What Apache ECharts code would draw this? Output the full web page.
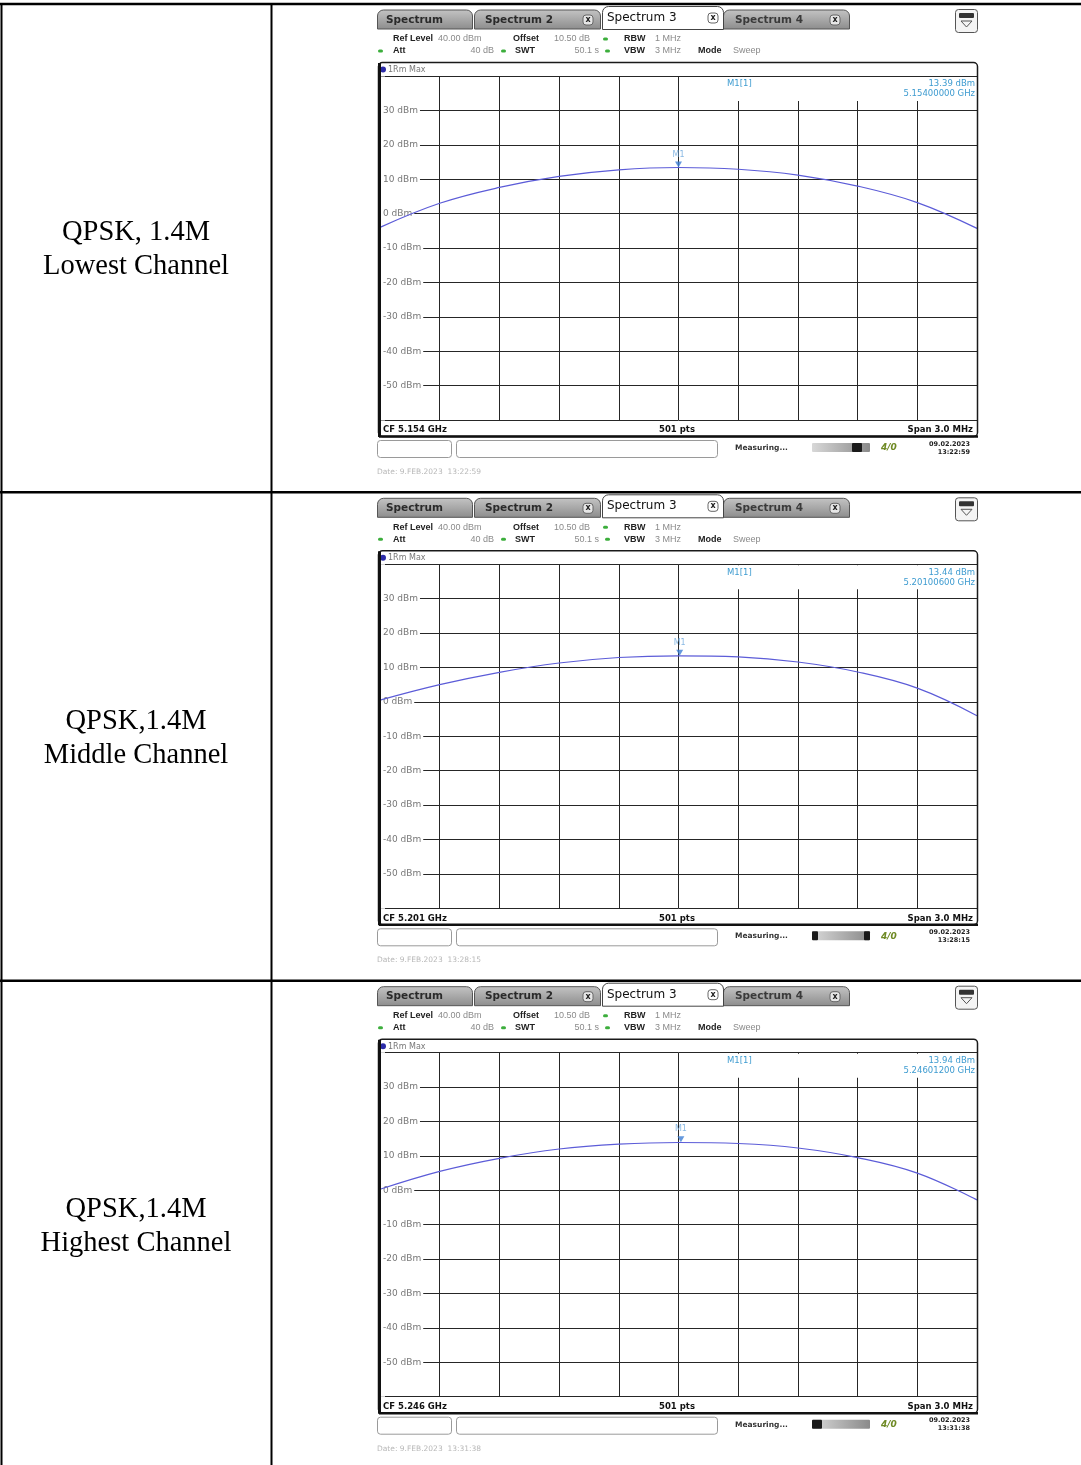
<!DOCTYPE html>
<html>
<head>
<meta charset="utf-8">
<script src="https://cdn.jsdelivr.net/npm/echarts@6/dist/echarts.min.js"></script>
<style>
  html, body { margin: 0; padding: 0; background: #fff; }
  #chart { width: 1081px; height: 1465px; }
</style>
</head>
<body>
<div id="chart"></div>
<script>
// frequency offset from CF in kHz (one grid division = 300 kHz, span 3 MHz)
const freqOffsetKHz = [-1500, -1200, -900, -600, -300, 0, 300, 600, 900, 1200, 1500];
// trace levels (dBm) read at each grid division
const levelLowest = [-4.0, 3.0, 7.6, 10.8, 12.7, 13.4, 12.9, 11.2, 8.0, 3.2, -4.3];
const levelMiddle = [0.5, 5.0, 8.6, 11.3, 12.9, 13.4, 13.1, 11.6, 8.7, 4.0, -4.0];
const levelHighest = [0.3, 5.5, 9.3, 12.0, 13.4, 13.9, 13.6, 12.3, 9.5, 5.0, -2.8];

const rowTitles = ["QPSK, 1.4M", "QPSK,1.4M", "QPSK,1.4M"];
const rowChannels = ["Lowest Channel", "Middle Channel", "Highest Channel"];
const centerFreq = ["CF 5.154 GHz", "CF 5.201 GHz", "CF 5.246 GHz"];
const markerOffsetKHz = [0, 6, 12];
const markerLevel = [13.39, 13.44, 13.94];
const markerLevelText = ["13.39 dBm", "13.44 dBm", "13.94 dBm"];
const markerFreqText = ["5.15400000 GHz", "5.20100600 GHz", "5.24601200 GHz"];
const sweepTime = ["13:22:59", "13:28:15", "13:31:38"];

const levels = [levelLowest, levelMiddle, levelHighest];
const rowTop = [0, 488.3, 976.7];
const UI = "DejaVu Sans";
const HDR = "Liberation Sans";

const chart = echarts.init(document.getElementById("chart"));

function txt(x, y, s, size, color, opts) {
  opts = opts || {};
  return {
    type: "text",
    z: 50,
    x: x,
    y: y,
    style: {
      text: s,
      fontSize: size,
      fontFamily: opts.family || UI,
      fontWeight: opts.bold ? "bold" : "normal",
      fontStyle: opts.italic ? "italic" : "normal",
      fill: color,
      align: opts.align || "left",
      verticalAlign: "middle",
      textAlign: opts.align || "left",
      textVerticalAlign: "middle",
    },
  };
}
function rect(x, y, w, h, style, r, z) {
  return { type: "rect", z: z || 45, shape: { x: x, y: y, width: w, height: h, r: r || 0 }, style: style };
}
function line(x1, y1, x2, y2, color, w, z) {
  return { type: "line", z: z || 60, shape: { x1: x1, y1: y1, x2: x2, y2: y2 }, style: { stroke: color, lineWidth: w } };
}
function closeBox(x, y, bg) {
  return [
    rect(x, y, 10, 10, { fill: bg, stroke: "#666", lineWidth: 1 }, 3, 46),
    txt(x + 5, y + 5, "x", 8, "#222", { align: "center", bold: true }),
  ];
}
function dot(x, y) {
  return rect(x, y - 1.5, 5, 3, { fill: "#3cae3c" }, 1.5, 46);
}

// screenshot chrome and table cell labels for one row
function panel(i) {
  const oy = rowTop[i];
  let els = [];
  const tabFill = new echarts.graphic.LinearGradient(0, 0, 0, 1, [
    { offset: 0, color: "#c4c4c4" },
    { offset: 1, color: "#8c8c8c" },
  ]);
  // tabs
  els.push(rect(377.5, oy + 10, 95, 19, { fill: tabFill, stroke: "#555", lineWidth: 1 }, [6, 6, 0, 0]));
  els.push(txt(386, oy + 20, "Spectrum", 10.5, "#2a2a2a", { bold: true }));
  els.push(rect(474.5, oy + 10, 126, 19, { fill: tabFill, stroke: "#555", lineWidth: 1 }, [6, 6, 0, 0]));
  els.push(txt(485, oy + 20, "Spectrum 2", 10.5, "#2a2a2a", { bold: true }));
  els = els.concat(closeBox(583, oy + 15, "#e6e6e6"));
  els.push(rect(723.5, oy + 10, 126, 19, { fill: tabFill, stroke: "#555", lineWidth: 1 }, [6, 6, 0, 0]));
  els.push(txt(735, oy + 20, "Spectrum 4", 10.5, "#3a3a3a", { bold: true }));
  els = els.concat(closeBox(830, oy + 15, "#e6e6e6"));
  els.push(rect(602.5, oy + 6.5, 121, 23, { fill: "#fff", stroke: "#444", lineWidth: 1 }, [6, 6, 0, 0], 47));
  els.push(Object.assign(txt(607, oy + 18, "Spectrum 3", 12, "#111"), { z: 52 }));
  els = els.concat(closeBox(708, oy + 13, "#fff").map((e) => Object.assign(e, { z: e.z + 6 })));
  // top-right icon
  els.push(rect(955.5, oy + 9.5, 22, 23, { fill: "#f4f4f4", stroke: "#555", lineWidth: 1 }, 3));
  els.push(rect(959, oy + 13, 15, 5, { fill: "#333" }, 1, 46));
  els.push({ type: "polygon", z: 46, shape: { points: [[961, oy + 21], [972, oy + 21], [966.5, oy + 27]] }, style: { fill: "none", stroke: "#555", lineWidth: 1 } });

  // header lines
  const yA = oy + 39, yB = oy + 51;
  const h = { family: HDR };
  const hb = { family: HDR, bold: true };
  els.push(txt(393, yA, "Ref Level", 9, "#222", hb));
  els.push(txt(438, yA, "40.00 dBm", 9, "#8a8a8a", h));
  els.push(txt(513, yA, "Offset", 9, "#222", hb));
  els.push(txt(554, yA, "10.50 dB", 9, "#8a8a8a", h));
  els.push(dot(603, yA));
  els.push(txt(624, yA, "RBW", 9, "#222", hb));
  els.push(txt(655, yA, "1 MHz", 9, "#8a8a8a", h));
  els.push(dot(378, yB));
  els.push(txt(393, yB, "Att", 9, "#222", hb));
  els.push(txt(494, yB, "40 dB", 9, "#8a8a8a", Object.assign({ align: "right" }, h)));
  els.push(dot(501, yB));
  els.push(txt(515, yB, "SWT", 9, "#222", hb));
  els.push(txt(599, yB, "50.1 s", 9, "#8a8a8a", Object.assign({ align: "right" }, h)));
  els.push(dot(605, yB));
  els.push(txt(624, yB, "VBW", 9, "#222", hb));
  els.push(txt(655, yB, "3 MHz", 9, "#8a8a8a", h));
  els.push(txt(698, yB, "Mode", 9, "#222", hb));
  els.push(txt(733, yB, "Sweep", 9, "#8a8a8a", h));

  // panel frame
  els.push(rect(378.5, oy + 62.5, 599, 374, { fill: "none", stroke: "#1a1a1a", lineWidth: 1.5 }, 4, 60));
  els.push(line(379.5, oy + 63, 379.5, oy + 437, "#111", 3));
  els.push(line(379, oy + 436.5, 978, oy + 436.5, "#111", 2.5));
  els.push({ type: "circle", z: 50, shape: { cx: 383, cy: oy + 69.5, r: 3 }, style: { fill: "#2b2ba8" } });
  els.push(txt(388, oy + 70, "1Rm Max", 8, "#777"));

  // marker readout
  els.push(rect(719, oy + 77, 257, 24, { fill: "#fff" }, 0, 30));
  els.push(txt(727, oy + 84, "M1[1]", 8.5, "#3d9bd0"));
  els.push(txt(975, oy + 84, markerLevelText[i], 8.5, "#3d9bd0", { align: "right" }));
  els.push(txt(975, oy + 94, markerFreqText[i], 8.5, "#3d9bd0", { align: "right" }));

  // bottom bar
  els.push(txt(383, oy + 430, centerFreq[i], 8.5, "#111", { bold: true }));
  els.push(txt(677, oy + 430, "501 pts", 8.5, "#111", { bold: true, align: "center" }));
  els.push(txt(973, oy + 430, "Span 3.0 MHz", 8.5, "#111", { bold: true, align: "right" }));

  // status line
  els.push(rect(377.5, oy + 440.5, 74, 17, { fill: "#fff", stroke: "#9a9a9a", lineWidth: 1 }, 3));
  els.push(rect(456.5, oy + 440.5, 261, 17, { fill: "#fff", stroke: "#9a9a9a", lineWidth: 1 }, 3));
  els.push(txt(735, oy + 448, "Measuring...", 7.5, "#333", { bold: true }));
  const barFill = new echarts.graphic.LinearGradient(0, 0, 1, 0, [
    { offset: 0, color: "#d8d8d8" },
    { offset: 1, color: "#8a8a8a" },
  ]);
  els.push(rect(812, oy + 443, 58, 9, { fill: barFill }, 1));
  const blocks = [[[852, 10]], [[812, 6], [864, 6]], [[812, 10]]][i];
  blocks.forEach((b) => els.push(rect(b[0], oy + 443, b[1], 9, { fill: "#1a1a1a" }, 1, 46)));
  els.push(txt(881, oy + 448, "4/0", 9, "#6f8a25", { bold: true, italic: true }));
  els.push(txt(970, oy + 444, "09.02.2023", 6.5, "#222", { bold: true, align: "right" }));
  els.push(txt(970, oy + 452, sweepTime[i], 6.5, "#222", { bold: true, align: "right" }));
  els.push(txt(377, oy + 472, "Date: 9.FEB.2023  " + sweepTime[i], 7.5, "#b8b8b8"));

  // left cell label
  els.push(txt(136, oy + 233, rowTitles[i], 28.5, "#000", { family: "Liberation Serif", align: "center" }));
  els.push(txt(136, oy + 267, rowChannels[i], 28.5, "#000", { family: "Liberation Serif", align: "center" }));
  return els;
}

let graphics = [];
const grids = [], xAxes = [], yAxes = [], series = [];
for (let i = 0; i < 3; i++) {
  graphics = graphics.concat(panel(i));
  grids.push({ left: 380, top: 76 + rowTop[i], width: 597, height: 344 });
  xAxes.push({
    type: "value",
    gridIndex: i,
    min: -1500,
    max: 1500,
    interval: 300,
    axisLine: { show: false },
    axisTick: { show: false },
    axisLabel: { show: false },
    splitLine: { show: true, lineStyle: { color: "#262626", width: 1 } },
  });
  yAxes.push({
    type: "value",
    gridIndex: i,
    min: -60,
    max: 40,
    interval: 10,
    axisLine: { show: false },
    axisTick: { show: false },
    axisLabel: {
      inside: true,
      margin: 0,
      fontSize: 9,
      fontFamily: UI,
      color: "#777",
      backgroundColor: "#fff",
      padding: [1, 2, 0, 3],
      formatter: (v) => (v === 40 || v === -60 ? "" : v + " dBm"),
    },
    splitLine: { show: true, lineStyle: { color: "#262626", width: 1 } },
  });
  series.push({
    type: "line",
    xAxisIndex: i,
    yAxisIndex: i,
    data: freqOffsetKHz.map((f, k) => [f, levels[i][k]]),
    smooth: 0.4,
    symbol: "none",
    lineStyle: { color: "#5c5cd8", width: 1.2 },
    z: 5,
  });
  series.push({
    type: "scatter",
    xAxisIndex: i,
    yAxisIndex: i,
    data: [[markerOffsetKHz[i], markerLevel[i]]],
    symbol: "path://M0,0 L10,0 L5,8 Z",
    symbolSize: [7, 6],
    symbolOffset: [0, -3],
    itemStyle: { color: "#3f7fd4" },
    label: { show: true, formatter: "M1", position: "top", distance: 3, fontSize: 8, fontFamily: UI, color: "#6aa6dc" },
    z: 6,
  });
}

// table rules
graphics.push(line(0, 4, 1081, 4, "#000", 2.5, 70));
graphics.push(line(1.5, 3, 1.5, 1465, "#000", 2, 70));
graphics.push(line(271.5, 3, 271.5, 1465, "#000", 2, 70));
graphics.push(line(0, 492.3, 1081, 492.3, "#000", 2.5, 70));
graphics.push(line(0, 980.7, 1081, 980.7, "#000", 2.5, 70));

chart.setOption({
  animation: false,
  backgroundColor: "#fff",
  grid: grids,
  xAxis: xAxes,
  yAxis: yAxes,
  series: series,
  graphic: { elements: graphics },
});
</script>
</body>
</html>
